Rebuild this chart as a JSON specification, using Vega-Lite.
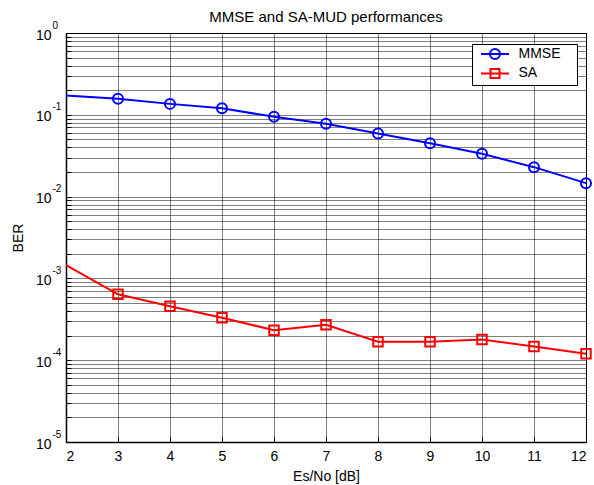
{
  "$schema": "https://vega.github.io/schema/vega-lite/v6.json",
  "width": 520,
  "height": 409,
  "autosize": "none",
  "padding": {"left": 66, "top": 33, "right": 8, "bottom": 43},
  "background": "white",
  "title": {"text": "MMSE and SA-MUD performances", "fontSize": 15, "fontWeight": "normal", "font": "Liberation Sans", "color": "black", "offset": -5},
  "data": {
    "values": [
      {"x": 2, "ber": 0.172, "series": "MMSE"},
      {"x": 3, "ber": 0.157, "series": "MMSE"},
      {"x": 4, "ber": 0.136, "series": "MMSE"},
      {"x": 5, "ber": 0.120, "series": "MMSE"},
      {"x": 6, "ber": 0.0945, "series": "MMSE"},
      {"x": 7, "ber": 0.0776, "series": "MMSE"},
      {"x": 8, "ber": 0.059, "series": "MMSE"},
      {"x": 9, "ber": 0.045, "series": "MMSE"},
      {"x": 10, "ber": 0.0334, "series": "MMSE"},
      {"x": 11, "ber": 0.0229, "series": "MMSE"},
      {"x": 12, "ber": 0.0146, "series": "MMSE"},
      {"x": 2, "ber": 0.00145, "series": "SA"},
      {"x": 3, "ber": 0.00064, "series": "SA"},
      {"x": 4, "ber": 0.000457, "series": "SA"},
      {"x": 5, "ber": 0.00033, "series": "SA"},
      {"x": 6, "ber": 0.000233, "series": "SA"},
      {"x": 7, "ber": 0.000271, "series": "SA"},
      {"x": 8, "ber": 0.000168, "series": "SA"},
      {"x": 9, "ber": 0.000168, "series": "SA"},
      {"x": 10, "ber": 0.000179, "series": "SA"},
      {"x": 11, "ber": 0.000147, "series": "SA"},
      {"x": 12, "ber": 0.00012, "series": "SA"}
    ]
  },
  "encoding": {
    "x": {
      "field": "x", "type": "quantitative",
      "scale": {"domain": [2, 12], "nice": false, "zero": false},
      "axis": {
        "values": [2, 3, 4, 5, 6, 7, 8, 9, 10, 11, 12],
        "title": "Es/No [dB]",
        "labelPadding": 12,
        "titlePadding": 6
      }
    },
    "color": {
      "field": "series", "type": "nominal",
      "scale": {"domain": ["MMSE", "SA"], "range": ["#0000ff", "#ff0000"]},
      "legend": {
        "title": "\u00a0",
        "titleOrient": "right",
        "titlePadding": 13,
        "titleFontSize": 14,
        "orient": "none",
        "legendX": 406,
        "legendY": 11,
        "strokeColor": "black",
        "fillColor": "white",
        "padding": 3,
        "symbolSize": 100,
        "symbolStrokeWidth": 2,
        "symbolOffset": 13,
        "labelOffset": 16.5,
        "rowPadding": 1.4,
        "labelFontSize": 14,
        "labelFont": "Liberation Sans",
        "labelColor": "black"
      }
    }
  },
  "layer": [
    {
      "mark": {"type": "line", "strokeWidth": 2},
      "encoding": {
        "y": {
          "field": "ber", "type": "quantitative",
          "scale": {"type": "log", "domain": [0.00001, 1], "nice": false},
          "axis": {
            "values": [0.00001, 0.00002, 0.00003, 0.00004, 0.00005, 0.00006, 0.00007, 0.00008, 0.00009,
                       0.0001, 0.0002, 0.0003, 0.0004, 0.0005, 0.0006, 0.0007, 0.0008, 0.0009,
                       0.001, 0.002, 0.003, 0.004, 0.005, 0.006, 0.007, 0.008, 0.009,
                       0.01, 0.02, 0.03, 0.04, 0.05, 0.06, 0.07, 0.08, 0.09,
                       0.1, 0.2, 0.3, 0.4, 0.5, 0.6, 0.7, 0.8, 0.9, 1],
            "labelExpr": "abs(log(datum.value)/LN10 - round(log(datum.value)/LN10)) < 0.000001 ? '10' : ''",
            "labelBaseline": "middle",
            "labelOffset": 2,
            "labelPadding": 20,
            "title": "BER",
            "titlePadding": 10
          }
        }
      }
    },
    {
      "transform": [{"filter": "datum.series === 'MMSE' && datum.x >= 3"}],
      "mark": {"type": "point", "shape": "circle", "filled": false, "strokeWidth": 2, "size": 100, "opacity": 1},
      "encoding": {
        "y": {
          "field": "ber", "type": "quantitative",
          "axis": {
            "orient": "left",
            "values": [0.00001, 0.0001, 0.001, 0.01, 0.1, 1],
            "labelExpr": "round(log(datum.value)/LN10) == 0 ? '0' : '-' + (-round(log(datum.value)/LN10))",
            "labelAlign": "left",
            "labelBaseline": "middle",
            "labelOffset": -8,
            "labelFontSize": 10,
            "labelPadding": 14,
            "ticks": false,
            "tickSize": 0,
            "domain": false,
            "grid": false,
            "title": null
          }
        }
      }
    },
    {
      "transform": [{"filter": "datum.series === 'SA' && datum.x >= 3"}],
      "mark": {"type": "point", "shape": "square", "filled": false, "strokeWidth": 2, "size": 90, "opacity": 1},
      "encoding": {
        "y": {"field": "ber", "type": "quantitative", "axis": null}
      }
    },
    {
      "transform": [{"filter": "false"}],
      "mark": {"type": "point", "filled": false, "strokeWidth": 2, "opacity": 1},
      "encoding": {
        "y": {"field": "ber", "type": "quantitative", "axis": null},
        "shape": {
          "field": "series", "type": "nominal",
          "scale": {"domain": ["MMSE", "SA"], "range": ["M-2.8,0H2.8M1,0A1,1 0 1,1 -1,0A1,1 0 1,1 1,0", "M-2.8,0H2.8M-0.9,-0.9H0.9V0.9H-0.9Z"]}
        }
      }
    }
  ],
  "resolve": {"scale": {"y": "shared"}, "axis": {"y": "independent"}},
  "config": {
    "font": "Liberation Sans",
    "view": {"stroke": "black", "strokeWidth": 1},
    "axis": {
      "grid": true,
      "gridColor": "#000000",
      "gridDash": [1, 1],
      "gridOpacity": 1,
      "gridWidth": 1,
      "domainColor": "black",
      "domainWidth": 1.5,
      "tickColor": "black",
      "tickSize": -5,
      "labelFont": "Liberation Sans",
      "labelFontSize": 14,
      "labelColor": "black",
      "titleFont": "Liberation Sans",
      "titleFontSize": 14,
      "titleFontWeight": "normal",
      "titleColor": "black"
    }
  }
}
